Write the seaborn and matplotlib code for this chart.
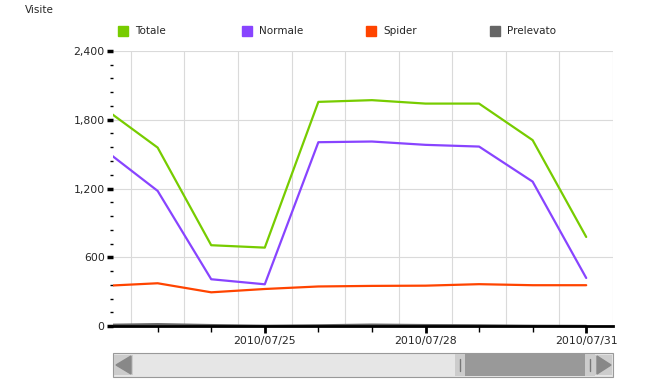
import pandas as pd
import matplotlib.pyplot as plt
import matplotlib.dates as mdates
from matplotlib.patches import Rectangle, Polygon
from matplotlib.ticker import FuncFormatter, MultipleLocator
import seaborn as sns

# Daily visits, 2010/07/22 - 2010/07/31
dates = pd.date_range("2010-07-22", "2010-07-31", freq="D")
totale = [1900, 1557, 705, 684, 1956, 1971, 1941, 1941, 1622, 777]
normale = [1540, 1179, 408, 364, 1604, 1610, 1581, 1566, 1260, 419]
spider = [350, 373, 294, 323, 345, 350, 352, 365, 356, 356]
prelevato = [10, 16, 8, 2, 6, 12, 8, 6, 2, 1]

series_names = ["Totale", "Normale", "Spider", "Prelevato"]
series_colors = ["#77cc00", "#8844ff", "#ff4400", "#666666"]
y_label = "Visite"

df = pd.DataFrame({"Data": dates, "Totale": totale, "Normale": normale,
                   "Spider": spider, "Prelevato": prelevato})
long_df = df.melt(id_vars="Data", var_name="Serie", value_name="Visite")

sns.set_style("white")
plt.rcParams["font.family"] = ["DejaVu Sans"]

W, H = 662, 392
fig = plt.figure(figsize=(W / 100, H / 100), dpi=100)
ax = fig.add_axes([113 / W, 1 - 326 / H, 500 / W, 275 / H])

sns.lineplot(data=long_df, x="Data", y="Visite", hue="Serie",
             hue_order=series_names, palette=series_colors,
             linewidth=1.6, legend=False, ax=ax)

x0 = dates[1] - pd.Timedelta(hours=20)
x1 = dates[-1] + pd.Timedelta(hours=12)
ax.set_xlim(x0, x1)
ax.set_ylim(0, 2400)

# grid: horizontal at major y ticks, vertical at half days
for d in dates:
    ax.axvline(d + pd.Timedelta(hours=12), color="#dadada", linewidth=0.8, zorder=0)
ax.yaxis.grid(True, color="#dadada", linewidth=0.8)
ax.set_axisbelow(True)

ax.yaxis.set_major_locator(MultipleLocator(600))
ax.yaxis.set_minor_locator(MultipleLocator(120))
ax.yaxis.set_major_formatter(FuncFormatter(lambda v, p: f"{int(v):,}"))
ax.xaxis.set_major_locator(mdates.DayLocator(bymonthday=[25, 28, 31]))
ax.xaxis.set_minor_locator(mdates.DayLocator())
ax.xaxis.set_major_formatter(mdates.DateFormatter("%Y/%m/%d"))

ax.tick_params(axis="y", which="major", length=4, width=2.5, direction="out",
               labelsize=7.8, pad=2, color="black", left=True)
ax.tick_params(axis="y", which="minor", length=2, width=1, direction="out",
               color="black", left=True)
ax.tick_params(axis="x", which="major", length=5, width=2, direction="out",
               labelsize=7.8, pad=2, color="black", bottom=True)
ax.tick_params(axis="x", which="minor", length=4, width=1, direction="out",
               color="black", bottom=True)

for s in ["top", "right", "left"]:
    ax.spines[s].set_visible(False)
ax.spines["bottom"].set_linewidth(2)
ax.spines["bottom"].set_color("black")
ax.set_xlabel("")
ax.set_ylabel("")

fig.text(25 / W, 1 - 10 / H, y_label, fontsize=7.5, va="center", ha="left")

# legend row
for i, (name, color) in enumerate(zip(series_names, series_colors)):
    lx = 118 + i * 124
    fig.add_artist(Rectangle((lx / W, 1 - 36 / H), 10 / W, 10 / H,
                             transform=fig.transFigure, color=color))
    fig.text((lx + 17) / W, 1 - 31 / H, name, fontsize=7.5, va="center", ha="left")

# scrollbar under the chart
def px_rect(x, y, w, h, **kw):
    fig.add_artist(Rectangle((x / W, 1 - (y + h) / H), w / W, h / H,
                             transform=fig.transFigure, **kw))

px_rect(113, 353, 500, 24, facecolor="#e6e6e6", edgecolor="#999999", linewidth=0.8)
px_rect(114, 355, 19, 20, facecolor="#cccccc", edgecolor="none")
px_rect(455, 354, 140, 22, facecolor="#999999", edgecolor="none")
px_rect(455, 354, 10, 22, facecolor="#cccccc", edgecolor="none")
px_rect(585, 354, 10, 22, facecolor="#cccccc", edgecolor="none")
px_rect(595, 355, 17, 20, facecolor="#cccccc", edgecolor="none")
fig.add_artist(Polygon([(116 / W, 1 - 365 / H), (131 / W, 1 - 356 / H), (131 / W, 1 - 374 / H)],
                       transform=fig.transFigure, color="#888888"))
fig.add_artist(Polygon([(611 / W, 1 - 365 / H), (597 / W, 1 - 356 / H), (597 / W, 1 - 374 / H)],
                       transform=fig.transFigure, color="#888888"))
fig.add_artist(plt.Line2D([460 / W, 460 / W], [1 - 359 / H, 1 - 371 / H],
                          transform=fig.transFigure, color="#777777", linewidth=1))
fig.add_artist(plt.Line2D([590 / W, 590 / W], [1 - 359 / H, 1 - 371 / H],
                          transform=fig.transFigure, color="#777777", linewidth=1))

fig.savefig("out.png", dpi=100)
